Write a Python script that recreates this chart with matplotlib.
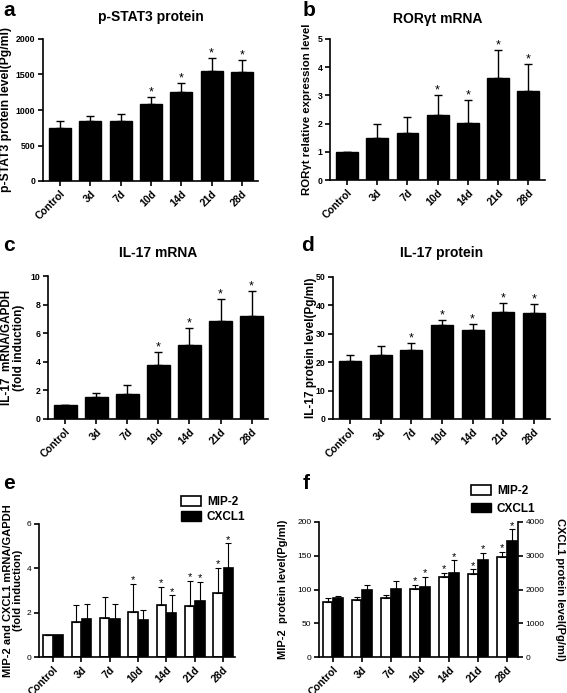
import matplotlib
matplotlib.use("Agg")
import matplotlib.pyplot as plt
import numpy as np
from matplotlib.patches import Patch

plt.rcParams['font.family'] = ['Liberation Sans', 'DejaVu Sans']
plt.rcParams['font.weight'] = 'bold'

categories = ["Control", "3d", "7d", "10d", "14d", "21d", "28d"]

# a: p-STAT3 protein
pstat3 = [740, 840, 850, 1090, 1255, 1555, 1540]
pstat3_err = [100, 70, 90, 90, 125, 175, 160]
pstat3_sig = [0, 0, 0, 1, 1, 1, 1]

# b: RORgt mRNA
rorgt = [1.0, 1.48, 1.65, 2.3, 2.03, 3.63, 3.15]
rorgt_err = [0.0, 0.52, 0.57, 0.7, 0.79, 0.97, 0.97]
rorgt_sig = [0, 0, 0, 1, 1, 1, 1]

# c: IL-17 mRNA
il17m = [1.0, 1.52, 1.72, 3.78, 5.15, 6.82, 7.18]
il17m_err = [0.0, 0.3, 0.63, 0.92, 1.18, 1.58, 1.77]
il17m_sig = [0, 0, 0, 1, 1, 1, 1]

# d: IL-17 protein
il17p = [20.3, 22.6, 24.3, 33.0, 31.3, 37.6, 37.3]
il17p_err = [2.2, 3.2, 2.3, 2.0, 2.1, 3.2, 3.1]
il17p_sig = [0, 0, 1, 1, 1, 1, 1]

# e: MIP-2 and CXCL1 mRNA
mip2_m = [1.0, 1.6, 1.75, 2.05, 2.35, 2.3, 2.88]
mip2_m_err = [0.0, 0.73, 0.97, 1.25, 0.83, 1.15, 1.15]
mip2_m_sig = [0, 0, 0, 1, 1, 1, 1]
cxcl1_m = [1.0, 1.73, 1.7, 1.66, 1.97, 2.52, 4.0]
cxcl1_m_err = [0.0, 0.65, 0.67, 0.44, 0.81, 0.88, 1.13]
cxcl1_m_sig = [0, 0, 0, 0, 1, 1, 1]

# f: MIP-2 and CXCL1 protein
mip2_p = [81, 85, 87.5, 101, 119, 123.5, 148]
mip2_p_err = [6, 4, 4.5, 6, 6, 6.5, 8]
mip2_p_sig = [0, 0, 0, 1, 1, 1, 1]
cxcl1_p = [1750, 1980, 2020, 2060, 2500, 2860, 3440]
cxcl1_p_err = [50, 160, 240, 320, 360, 220, 340]
cxcl1_p_sig = [0, 0, 0, 1, 1, 1, 1]

W, H = 567, 693
fig = plt.figure(figsize=(W / 100, H / 100), dpi=100)


def rect(x0, x1, y0, y1):
    return [x0 / W, 1 - y1 / H, (x1 - x0) / W, (y1 - y0) / H]


def style(ax, right=False, tick_weight='bold', tick_size=6.3):
    for s in ['top'] + ([] if right else ['right']):
        ax.spines[s].set_visible(False)
    for s in ['left', 'bottom', 'right']:
        ax.spines[s].set_linewidth(1.2)
    ax.tick_params(direction='out', width=1.2, length=3.5, pad=2)
    ax.tick_params(axis='y', labelsize=tick_size)
    for t in ax.get_yticklabels():
        t.set_fontweight(tick_weight)


def set_ylabel(ax, text, axrect, right_px, fs=8.2):
    x0, x1, y0, y1 = axrect
    ax.set_ylabel(text, fontsize=fs, fontweight='bold', linespacing=1.0)
    ax.yaxis.set_label_coords((right_px - x0) / (x1 - x0), 0.5)


def stars(ax, xs, tops, sig, fs=9):
    for x, t, s in zip(xs, tops, sig):
        if s:
            ax.annotate('*', (x, t), xytext=(0, -1), textcoords='offset points',
                        ha='center', va='bottom', fontsize=fs, fontweight='normal')


def single(axrect, vals, errs, sig, ylim, yticks, ylabel, label_px, title, letter, letter_xy,
           title_y, xlim, ylfs=8.2):
    ax = fig.add_axes(rect(*axrect))
    x = np.arange(len(categories))
    ax.bar(x, vals, width=0.72, color='black', edgecolor='black')
    ax.errorbar(x, vals, yerr=[np.zeros(len(vals)), errs], fmt='none', ecolor='black',
                elinewidth=1, capsize=3, capthick=1)
    tops = np.array(vals) + np.array(errs)
    stars(ax, x, tops, sig)
    ax.set_ylim(*ylim)
    ax.set_yticks(yticks)
    ax.set_xlim(*xlim)
    ax.set_xticks(x)
    ax.set_xticklabels(categories, rotation=45, ha='right', rotation_mode='anchor', fontsize=7.5)
    set_ylabel(ax, ylabel, axrect, label_px, fs=ylfs)
    style(ax)
    x0, x1, y0, y1 = axrect
    fig.text(((x0 + x1) / 2) / W, 1 - title_y / H, title, ha='center', va='center',
             fontsize=10, fontweight='bold')
    fig.text(letter_xy[0] / W, 1 - letter_xy[1] / H, letter, ha='left', va='top',
             fontsize=15, fontweight='bold')
    return ax


single((43, 258, 39, 181), pstat3, pstat3_err, pstat3_sig, (0, 2000), [0, 500, 1000, 1500, 2000],
       'p-STAT3 protein level(Pg/ml)', 12, 'p-STAT3 protein', 'a', (3, 1), 17, (-0.56, 6.53),
       ylfs=8.7)
single((330, 545, 39, 180), rorgt, rorgt_err, rorgt_sig, (0, 5), [0, 1, 2, 3, 4, 5],
       'RORγt relative expression level', 312, 'RORγt mRNA', 'b', (303, 1), 19, (-0.56, 6.55))
single((48, 268, 276, 419), il17m, il17m_err, il17m_sig, (0, 10), [0, 2, 4, 6, 8, 10],
       'IL-17  mRNA/GAPDH\n(fold induction)', 25, 'IL-17 mRNA', 'c', (3, 236), 253, (-0.56, 6.53),
       ylfs=8.5)
single((333, 550, 277, 419), il17p, il17p_err, il17p_sig, (0, 50), [0, 10, 20, 30, 40, 50],
       'IL-17 protein level(Pg/ml)', 317, 'IL-17 protein', 'd', (301, 236), 253, (-0.56, 6.53),
       ylfs=8.5)

# e
erect = (39, 235, 524, 657)
ax = fig.add_axes(rect(*erect))
x = np.arange(len(categories))
bw, off = 0.33, 0.18
ax.bar(x - off, mip2_m, width=bw, color='white', edgecolor='black', linewidth=1.2)
ax.bar(x + off, cxcl1_m, width=bw, color='black', edgecolor='black', linewidth=1.2)
ax.errorbar(x - off, mip2_m, yerr=[np.zeros(7), mip2_m_err], fmt='none', ecolor='black',
            elinewidth=0.8, capsize=2, capthick=0.8)
ax.errorbar(x + off, cxcl1_m, yerr=[np.zeros(7), cxcl1_m_err], fmt='none', ecolor='black',
            elinewidth=0.8, capsize=2, capthick=0.8)
stars(ax, x - off, np.array(mip2_m) + np.array(mip2_m_err), mip2_m_sig, fs=8)
stars(ax, x + off, np.array(cxcl1_m) + np.array(cxcl1_m_err), cxcl1_m_sig, fs=8)
ax.set_ylim(0, 6)
ax.set_yticks([0, 2, 4, 6])
ax.set_xlim(-0.5, 6.42)
ax.set_xticks(x)
ax.set_xticklabels(categories, rotation=45, ha='right', rotation_mode='anchor', fontsize=7.5)
set_ylabel(ax, 'MIP-2 and CXCL1 mRNA/GAPDH\n(fold induction)', erect, 23, fs=8)
style(ax, tick_weight='normal', tick_size=6)
handles = [Patch(facecolor='white', edgecolor='black', linewidth=1.2, label='MIP-2'),
           Patch(facecolor='black', edgecolor='black', label='CXCL1')]
ax.legend(handles=handles, loc='lower left', bbox_to_anchor=(0.7, 0.97), frameon=False,
          handlelength=1.7, handleheight=0.9, borderaxespad=0, labelspacing=0.3,
          handletextpad=0.5, prop={'weight': 'bold', 'size': 8.5})
fig.text(3 / W, 1 - 474 / H, 'e', ha='left', va='top', fontsize=15, fontweight='bold')

# f
frect = (319, 518, 522, 657)
ax = fig.add_axes(rect(*frect))
ax2 = ax.twinx()
ax.bar(x - off, mip2_p, width=bw, color='white', edgecolor='black', linewidth=1.2, zorder=3)
ax.errorbar(x - off, mip2_p, yerr=[np.zeros(7), mip2_p_err], fmt='none', ecolor='black',
            elinewidth=0.8, capsize=2, capthick=0.8, zorder=3)
stars(ax, x - off, np.array(mip2_p) + np.array(mip2_p_err), mip2_p_sig, fs=8)
ax2.bar(x + off, cxcl1_p, width=bw, color='black', edgecolor='black', linewidth=1.2)
ax2.errorbar(x + off, cxcl1_p, yerr=[np.zeros(7), cxcl1_p_err], fmt='none', ecolor='black',
             elinewidth=0.8, capsize=2, capthick=0.8)
stars(ax2, x + off, np.array(cxcl1_p) + np.array(cxcl1_p_err), cxcl1_p_sig, fs=8)
ax.set_ylim(0, 200)
ax.set_yticks([0, 50, 100, 150, 200])
ax2.set_ylim(0, 4000)
ax2.set_yticks([0, 1000, 2000, 3000, 4000])
ax.set_xlim(-0.48, 6.38)
ax.set_xticks(x)
ax.set_xticklabels(categories, rotation=45, ha='right', rotation_mode='anchor', fontsize=7.5)
set_ylabel(ax, 'MIP-2  protein level(Pg/ml)', frect, 288, fs=8)
ax2.set_ylabel('CXCL1 protein level(Pg/ml)', fontsize=8, fontweight='bold', rotation=270,
               va='bottom')
ax2.yaxis.set_label_coords((555 - 319) / (518 - 319), 0.5)
style(ax, tick_weight='normal', tick_size=6)
style(ax2, right=True, tick_weight='normal', tick_size=6)
ax2.spines['left'].set_visible(False)
ax2.spines['bottom'].set_visible(False)
ax2.legend(handles=handles, loc='lower left', bbox_to_anchor=(0.74, 1.02), frameon=False,
           handlelength=1.7, handleheight=0.9, borderaxespad=0, labelspacing=0.5,
           handletextpad=0.5, prop={'weight': 'bold', 'size': 8.5})
fig.text(303 / W, 1 - 474 / H, 'f', ha='left', va='top', fontsize=15, fontweight='bold')

fig.savefig('out.png', dpi=100)
